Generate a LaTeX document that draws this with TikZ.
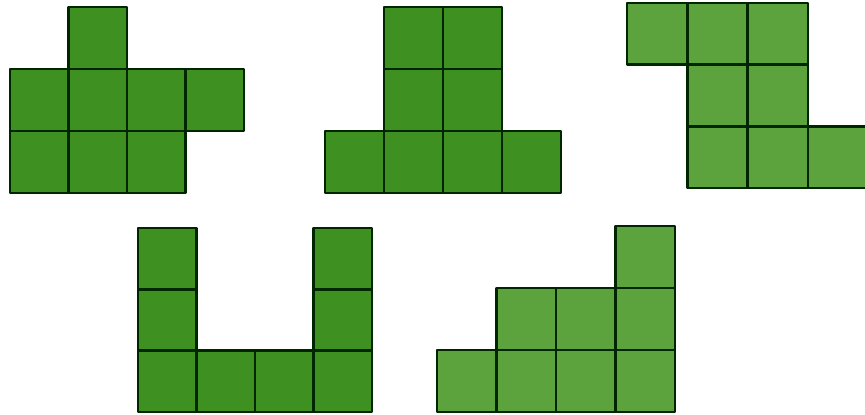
\documentclass[tikz,border=0pt]{standalone}
\begin{document}
\begin{tikzpicture}[x=1pt,y=-1pt,
  cell/.style={draw=black!85!green, line width=2.7pt, line join=round},
  darkcell/.style={cell, fill={rgb,255:red,62;green,145;blue,32}},
  lightcell/.style={cell, fill={rgb,255:red,92;green,163;blue,62}}]
\useasboundingbox (0,0) rectangle (865,415);
\fill[white] (0,0) rectangle (865,415);
% figure 1
\foreach \c/\r in {1/0, 0/1,1/1,2/1,3/1, 0/2,1/2,2/2}
  \draw[darkcell] ({10+58.5*\c},{7+62*\r}) rectangle ++(58.5,62);
% figure 2
\foreach \c/\r in {1/0,2/0, 1/1,2/1, 0/2,1/2,2/2,3/2}
  \draw[darkcell] ({325+59*\c},{7+62*\r}) rectangle ++(59,62);
% figure 3
\foreach \c/\r in {0/0,1/0,2/0, 1/1,2/1, 1/2,2/2,3/2}
  \draw[lightcell] ({627+60.3*\c},{3+61.7*\r}) rectangle ++(60.3,61.7);
% figure 4
\foreach \c/\r in {0/0,3/0, 0/1,3/1, 0/2,1/2,2/2,3/2}
  \draw[darkcell] ({138+58.5*\c},{228+61.3*\r}) rectangle ++(58.5,61.3);
% figure 5
\foreach \c/\r in {3/0, 1/1,2/1,3/1, 0/2,1/2,2/2,3/2}
  \draw[lightcell] ({437+59.5*\c},{226+62*\r}) rectangle ++(59.5,62);
\end{tikzpicture}
\end{document}
